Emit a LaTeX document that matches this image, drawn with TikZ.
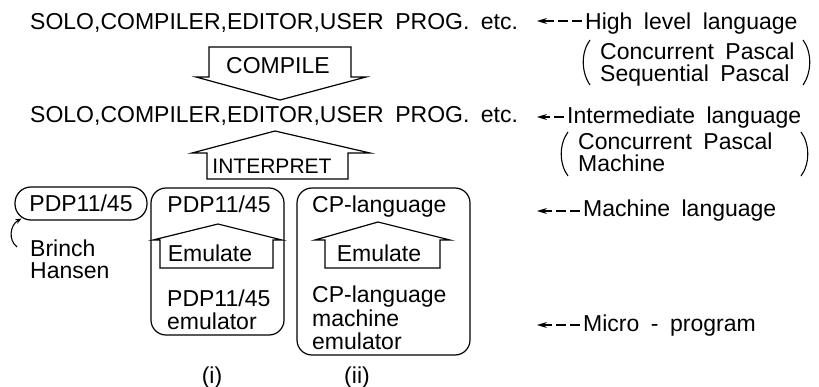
\documentclass[tikz,border=0pt]{standalone}
\usepackage{fontspec}
\setmainfont{Liberation Sans}[WordSpace=1.8]
\usetikzlibrary{arrows.meta,calc}
\tikzset{
  lettering/.style={font=\fontsize{23}{23}\selectfont, inner sep=0pt},
  tightstack/.style={lettering, align=left, font=\fontsize{23}{23.5}\selectfont},
  loosestack/.style={lettering, align=left, font=\fontsize{23}{22}\selectfont},
  pill/.style={draw, line width=1.2pt, rounded corners=16pt,
    minimum width=132pt, minimum height=33pt, inner sep=0pt,
    font=\fontsize{23}{23}\selectfont},
  panel/.style={draw, line width=1.2pt, rounded corners=15pt},
  blockarrow/.style={draw, line width=1.2pt, line join=miter},
  paren/.style={line width=1.1pt},
  pointer/.style={line width=1.1pt, -{Stealth[length=6pt,width=5pt]}},
  levelarrow/.style={line width=1.1pt, dash pattern=on 10pt off 4pt,
    shorten <=3pt, -{Stealth[length=10pt,width=6pt]}}
}
\begin{document}
\begin{tikzpicture}[x=1pt,y=-1pt]
\useasboundingbox (0,0) rectangle (819,387);

% program lines
\node[lettering, anchor=base west] (progHigh) at (30,30) {SOLO,COMPILER,EDITOR,USER PROG. etc.};
\node[lettering, anchor=base west] (progMid) at (30,123) {SOLO,COMPILER,EDITOR,USER PROG. etc.};

% compile and interpret arrows
\draw[blockarrow] (209,47) -- (351,47) -- (351,77) -- (366,77) -- (280,100)
  -- (196,77) -- (209,77) -- cycle;
\node[lettering, anchor=base] (compile) at (278,74) {COMPILE};
\draw[blockarrow] (207,179) -- (207,153) -- (192,153) -- (275,131) -- (370,153)
  -- (348,153) -- (348,179) -- cycle;
\node[lettering, anchor=base, font=\fontsize{21}{21}\selectfont] (interpret) at (272,174) {INTERPRET};

% machine level
\node[pill] (pdpBH) at (81,203.5) {PDP11/45};
\coordinate (bhFoot) at (17,247);
\draw[pointer] (bhFoot) .. controls (8,240) and (10,225) .. ([shift={(7,-2)}]pdpBH.south west);
\node[loosestack, anchor=north west] (brinch) at (30,240) {Brinch\\Hansen};

% (i)
\node[panel, minimum width=133pt, minimum height=147pt] (panelI) at (217.5,261.5) {};
\node[lettering, anchor=base] (machI) at (219,213) {PDP11/45};
\draw[blockarrow] (160,268) -- (160,240) -- (153,240) -- (218,224) -- (282,240)
  -- (273,240) -- (273,268) -- cycle;
\node[lettering, anchor=base] (emuI) at (210,262) {Emulate};
\node[tightstack, anchor=north west] (microI) at (167,289.5) {PDP11/45\\emulator};
\node[lettering, anchor=base] (capI) at (212,383) {(i)};

% (ii)
\node[panel, minimum width=173pt, minimum height=167pt] (panelII) at (383.5,271.5) {};
\node[lettering, anchor=base west] (machII) at (312,213) {CP-language};
\draw[blockarrow] (325,268) -- (325,240) -- (315,240) -- (378,222) -- (450,240)
  -- (440,240) -- (440,268) -- cycle;
\node[lettering, anchor=base] (emuII) at (379,262) {Emulate};
\node[tightstack, anchor=north west] (microII) at (312,286) {CP-language\\machine\\emulator};
\node[lettering, anchor=base] (capII) at (357,383) {(ii)};

% level labels
\coordinate (tipHigh) at (537,21);
\node[lettering, anchor=base west] (high) at (585,30) {High level language};
\draw[levelarrow] (high.west |- tipHigh) -- (tipHigh);
\node[loosestack, anchor=north west] (highSub) at (600,43) {Concurrent Pascal\\Sequential Pascal};
\draw[paren] (590,40) .. controls (581,52) and (581,72) .. (590,85);
\draw[paren] (803,40) .. controls (812,52) and (812,72) .. (803,85);

\coordinate (tipMid) at (537,117);
\node[lettering, anchor=base west] (mid) at (567,124) {Intermediate language};
\draw[levelarrow] (mid.west |- tipMid) -- (tipMid);
\node[loosestack, anchor=north west] (midSub) at (578,133) {Concurrent Pascal\\Machine};
\draw[paren] (568,132) .. controls (559,144) and (559,164) .. (568,176);
\draw[paren] (801,132) .. controls (810,144) and (810,164) .. (801,176);

\coordinate (tipMach) at (537,211);
\node[lettering, anchor=base west] (mach) at (583,217) {Machine language};
\draw[levelarrow] (mach.west |- tipMach) -- (tipMach);

\coordinate (tipMicro) at (537,325);
\node[lettering, anchor=base west] (micro) at (583,331) {Micro - program};
\draw[levelarrow] (micro.west |- tipMicro) -- (tipMicro);
\end{tikzpicture}
\end{document}
